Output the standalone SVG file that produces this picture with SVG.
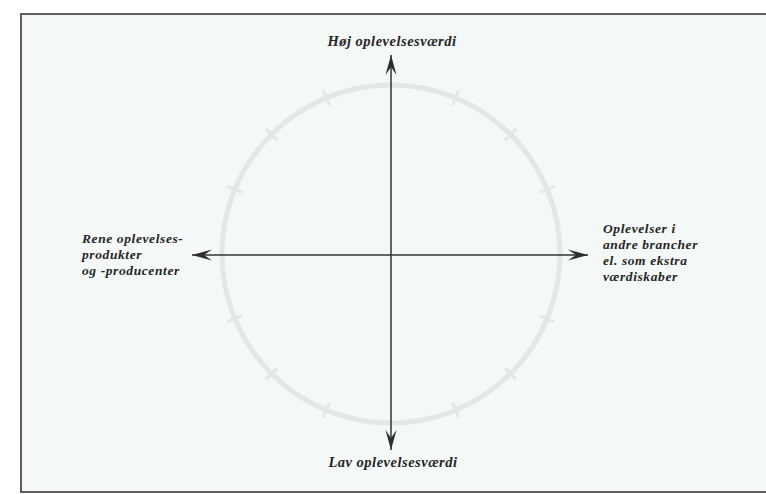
<svg xmlns="http://www.w3.org/2000/svg" width="766" height="494" viewBox="0 0 766 494">
  <defs>
    <marker id="barb" markerUnits="userSpaceOnUse" viewBox="-21 -7 22 14" refX="0" refY="0" markerWidth="22" markerHeight="14" orient="auto-start-reverse">
      <path d="M0,0 L-20,-5.5 L-12,0 L-20,5.5 Z" fill="#2e2e2e"/>
    </marker>
    <style>
      .lbl { font-family: "Liberation Serif", "DejaVu Serif", serif; font-style: italic; font-weight: bold; font-size: 13.5px; letter-spacing: 0.6px; fill: #262626; }
      .big { font-size: 14.5px; letter-spacing: 0.5px; }
      .axis { stroke: #333; stroke-width: 1.5; fill: none; }
      .ring { stroke: #e4e7e7; stroke-width: 5; fill: none; }
      .tick { stroke: #e4e7e7; stroke-width: 3; }
      .frame { stroke: #5f5f5f; stroke-width: 2; fill: none; }
    </style>
  </defs>

  <rect x="0" y="0" width="766" height="494" fill="#ffffff"/>
  <rect x="21" y="14" width="745" height="478" fill="#f4f8f7"/>

  <g id="ring">
    <circle class="ring" cx="391" cy="254" r="169"/>
    <g class="tick">
      <line x1="391" y1="77" x2="391" y2="93" transform="rotate(22.5 391 254)"/>
      <line x1="391" y1="77" x2="391" y2="93" transform="rotate(45 391 254)"/>
      <line x1="391" y1="77" x2="391" y2="93" transform="rotate(67.5 391 254)"/>
      <line x1="391" y1="77" x2="391" y2="93" transform="rotate(112.5 391 254)"/>
      <line x1="391" y1="77" x2="391" y2="93" transform="rotate(135 391 254)"/>
      <line x1="391" y1="77" x2="391" y2="93" transform="rotate(157.5 391 254)"/>
      <line x1="391" y1="77" x2="391" y2="93" transform="rotate(202.5 391 254)"/>
      <line x1="391" y1="77" x2="391" y2="93" transform="rotate(225 391 254)"/>
      <line x1="391" y1="77" x2="391" y2="93" transform="rotate(247.5 391 254)"/>
      <line x1="391" y1="77" x2="391" y2="93" transform="rotate(292.5 391 254)"/>
      <line x1="391" y1="77" x2="391" y2="93" transform="rotate(315 391 254)"/>
      <line x1="391" y1="77" x2="391" y2="93" transform="rotate(337.5 391 254)"/>
    </g>
  </g>

  <g id="frame">
    <polyline class="frame" points="766,14 21,14 21,492 766,492"/>
  </g>

  <g id="connectors">
    <line class="axis" x1="391" y1="450" x2="391" y2="55" marker-start="url(#barb)" marker-end="url(#barb)"/>
    <line class="axis" x1="192" y1="255" x2="588" y2="255" marker-start="url(#barb)" marker-end="url(#barb)"/>
  </g>

  <g id="node-top">
    <text class="lbl big" x="392" y="46" text-anchor="middle">Høj oplevelsesværdi</text>
  </g>
  <g id="node-bottom">
    <text class="lbl big" x="393" y="467" text-anchor="middle">Lav oplevelsesværdi</text>
  </g>
  <g id="node-left">
    <text class="lbl" x="82" y="243">Rene oplevelses-</text>
    <text class="lbl" x="82" y="259">produkter</text>
    <text class="lbl" x="82" y="275">og -producenter</text>
  </g>
  <g id="node-right">
    <text class="lbl" x="603" y="233">Oplevelser i</text>
    <text class="lbl" x="603" y="249">andre brancher</text>
    <text class="lbl" x="603" y="265">el. som ekstra</text>
    <text class="lbl" x="603" y="281">værdiskaber</text>
  </g>
</svg>
